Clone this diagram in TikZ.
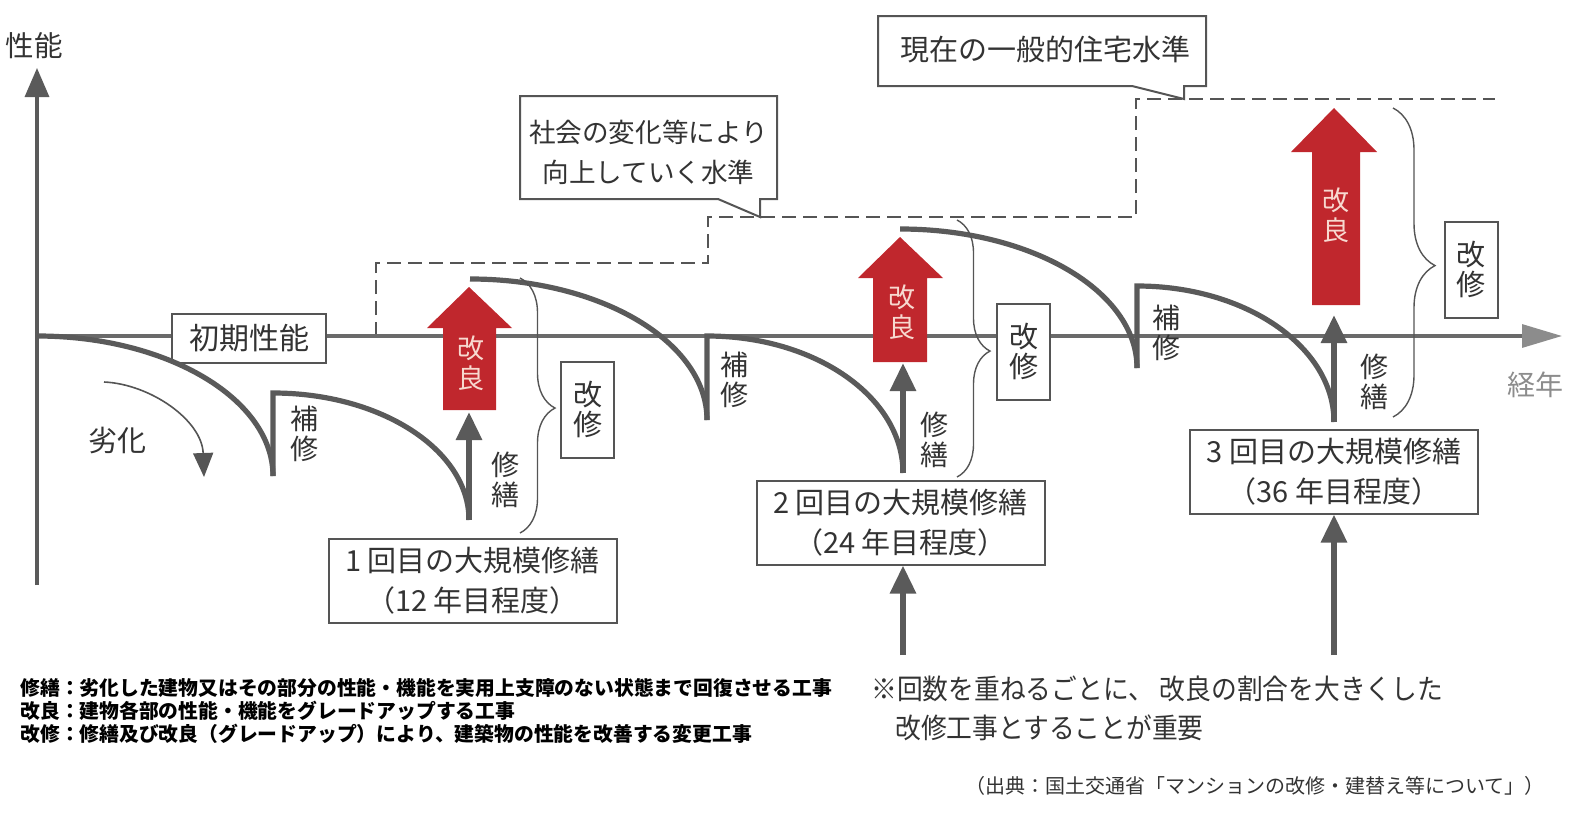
\documentclass[tikz,border=0pt]{standalone}
\usepackage{fontspec}
\setmainfont{Noto Sans CJK JP}
\usetikzlibrary{arrows.meta,decorations.pathreplacing}
\definecolor{cgray}{HTML}{5A5A5A}
\definecolor{lgray}{HTML}{8C8C8C}
\definecolor{agray}{HTML}{6A6A6A}
\definecolor{tgray}{HTML}{333333}
\definecolor{bgray}{HTML}{555555}
\definecolor{kred}{HTML}{C0272D}
\definecolor{kpink}{HTML}{F7D9D0}
\begin{document}
\begin{tikzpicture}[x=0.5pt,y=-0.5pt,
  txt/.style={inner sep=0pt, text=tgray},
  lab/.style={txt, align=center, font=\fontsize{14pt}{15pt}\selectfont},
  rlab/.style={inner sep=0pt, text=kpink, align=center, font=\fontsize{13.5pt}{15pt}\selectfont},
  box/.style={draw=bgray, line width=1pt, fill=white, inner sep=0pt, text=tgray, align=center},
  bigbox/.style={box, minimum width=144pt, minimum height=42pt, font=\fontsize{14.5pt}{20pt}\selectfont},
  kbox/.style={box, minimum width=26.5pt, minimum height=48pt, font=\fontsize{14.5pt}{15pt}\selectfont},
  curve/.style={draw=cgray, line width=2.6pt},
  rep/.style={draw=cgray, line width=3pt, -{Triangle[length=14pt,width=12.5pt]}},
  brc/.style={draw=bgray, line width=0.7pt, decorate},
  lvl/.style={draw=bgray, line width=0.9pt, dash pattern=on 7pt off 3.5pt},
  kaizen/.style={fill=kred},
  callout/.style={draw=bgray, fill=white, line width=1pt},
  foot/.style={inner sep=0pt, anchor=west, text=black, font=\bfseries\fontsize{9.9pt}{11pt}\selectfont},
  note/.style={inner sep=0pt, anchor=west, text=tgray, font=\fontsize{14pt}{15pt}\selectfont}
]
\useasboundingbox (0,0) rectangle (1580,830);

% coordinates
\coordinate (o) at (37,336);
\coordinate (yb) at (37,585);
\coordinate (yt) at (37,68);
\coordinate (xt) at (1562,336);

% level (dashed)
\draw[lvl] (376,336) -- (376,263) -- (708,263) -- (708,217) -- (1136,217) -- (1136,99) -- (1495,99);

% axes
\draw[draw=cgray, line width=1.7pt, -{Triangle[length=14.5pt,width=12pt]}] (yb) -- (yt);
\draw[draw=agray, line width=1.6pt, -{Triangle[length=20pt,width=11.5pt,color=lgray]}] (o) -- (xt);
\node[txt, font=\fontsize{14.25pt}{16pt}\selectfont] (ylab) at (34,46) {性能};
\node[inner sep=0pt, text=lgray, font=\fontsize{14pt}{16pt}\selectfont] (xlab) at (1535,385) {経年};

% initial box
\node[box, minimum width=77pt, minimum height=24.5pt, font=\fontsize{15pt}{18pt}\selectfont] (init) at (249,338.5) {初期性能};

% curves
\draw[curve] (o) .. controls (167,336) and (273,399) .. (273,476);
\draw[curve] (273,476) -- (273,393) .. controls (381,393) and (469,450) .. (469,520);
\draw[curve] (470,279) .. controls (601,279) and (707,342) .. (707,420);
\draw[curve] (707,420) -- (707,336) .. controls (815,336) and (903,397) .. (903,473);
\draw[curve] (900,229) .. controls (1031,229) and (1137,291) .. (1137,368);
\draw[curve] (1137,368) -- (1137,286) .. controls (1246,286) and (1334,347) .. (1334,422);

% deterioration arrow
\coordinate (d1) at (104,382);
\coordinate (d2) at (204,477);
\draw[draw=bgray, line width=0.8pt, -{Triangle[length=12pt,width=10pt]}] (d1) .. controls (150,384) and (202,420) .. (d2);
\node[txt, font=\fontsize{14.5pt}{16pt}\selectfont] (rekka) at (117,441) {劣化};

% repair arrows
\coordinate (r1b) at (469,520); \coordinate (r1t) at (469,412);
\coordinate (r2b) at (903,473); \coordinate (r2t) at (903,363);
\coordinate (r3b) at (1334,422); \coordinate (r3t) at (1334,315);
\draw[rep] (r1b) -- (r1t);
\draw[rep] (r2b) -- (r2t);
\draw[rep] (r3b) -- (r3t);

% red improvement arrows
\fill[kaizen] (443,410) -- (443,328) -- (427,328) -- (469,287) -- (512,328) -- (496,328) -- (496,410) -- cycle;
\fill[kaizen] (873,362) -- (873,278) -- (858,278) -- (900,237) -- (943,278) -- (927,278) -- (927,362) -- cycle;
\fill[kaizen] (1312,305) -- (1312,152) -- (1291,152) -- (1334,108) -- (1377,152) -- (1360,152) -- (1360,305) -- cycle;
\node[rlab] (kr1) at (471,363) {改\\良};
\node[rlab] (kr2) at (902,312) {改\\良};
\node[rlab] (kr3) at (1336,215) {改\\良};

% labels
\node[lab] (h1) at (304,434) {補\\修};
\node[lab] (h2) at (734,380) {補\\修};
\node[lab] (h3) at (1166,333) {補\\修};
\node[lab] (s1) at (505,480) {修\\繕};
\node[lab] (s2) at (934,440) {修\\繕};
\node[lab] (s3) at (1374,382) {修\\繕};

% braces
\draw[brc, decoration={brace, amplitude=17.5pt, aspect=0.51}] (520,278) -- (520,533);
\draw[brc, decoration={brace, amplitude=16.5pt, aspect=0.51}] (957,220) -- (957,477);
\draw[brc, decoration={brace, amplitude=21pt, aspect=0.51}] (1393,108) -- (1393,417);

% kaishu boxes
\node[kbox] (k1) at (587.5,409.5) {改\\修};
\node[kbox] (k2) at (1023.5,351.5) {改\\修};
\node[kbox] (k3) at (1471,269.5) {改\\修};

% big repair boxes
\node[bigbox] (box1) at (472.5,581) {1 回目の大規模修繕\\（12 年目程度）};
\node[bigbox] (box2) at (900.5,522.5) {2 回目の大規模修繕\\（24 年目程度）};
\node[bigbox] (box3) at (1334,471.5) {3 回目の大規模修繕\\（36 年目程度）};
\coordinate (b2s) at (903,655);
\coordinate (b3s) at (1334,655);
\draw[rep] (b2s) -- (b2s |- box2.south);
\draw[rep] (b3s) -- (b3s |- box3.south);

% callouts
\filldraw[callout] (520,96) -- (777,96) -- (777,199) -- (760,199) -- (760,217) -- (718,199) -- (520,199) -- cycle;
\node[txt, align=center, font=\fontsize{13.3pt}{20pt}\selectfont] (c1) at (648.5,152) {社会の変化等により\\向上していく水準};
\filldraw[callout] (878,16) -- (1206,16) -- (1206,86) -- (1184,86) -- (1184,99) -- (1132,86) -- (878,86) -- cycle;
\node[txt, font=\fontsize{14.5pt}{16pt}\selectfont] (c2) at (1045,49) {現在の一般的住宅水準};

% footnotes
\node[foot] (n1) at (20,688) {修繕：劣化した建物又はその部分の性能・機能を実用上支障のない状態まで回復させる工事};
\node[foot] (n2) at (20,711) {改良：建物各部の性能・機能をグレードアップする工事};
\node[foot] (n3) at (20,734) {改修：修繕及び改良（グレードアップ）により、建築物の性能を改善する変更工事};

\node[note] (m1) at (871,689) {\scalebox{0.92}[1]{※回数を重ねるごとに、 改良の割合を大きくした}};
\node[note] (m2) at (895,728) {\scalebox{0.92}[1]{改修工事とすることが重要}};

\node[inner sep=0pt, text=tgray, font=\fontsize{10pt}{11pt}\selectfont] (src) at (1255,786) {（出典：国土交通省「マンションの改修・建替え等について」）};
\end{tikzpicture}
\end{document}
